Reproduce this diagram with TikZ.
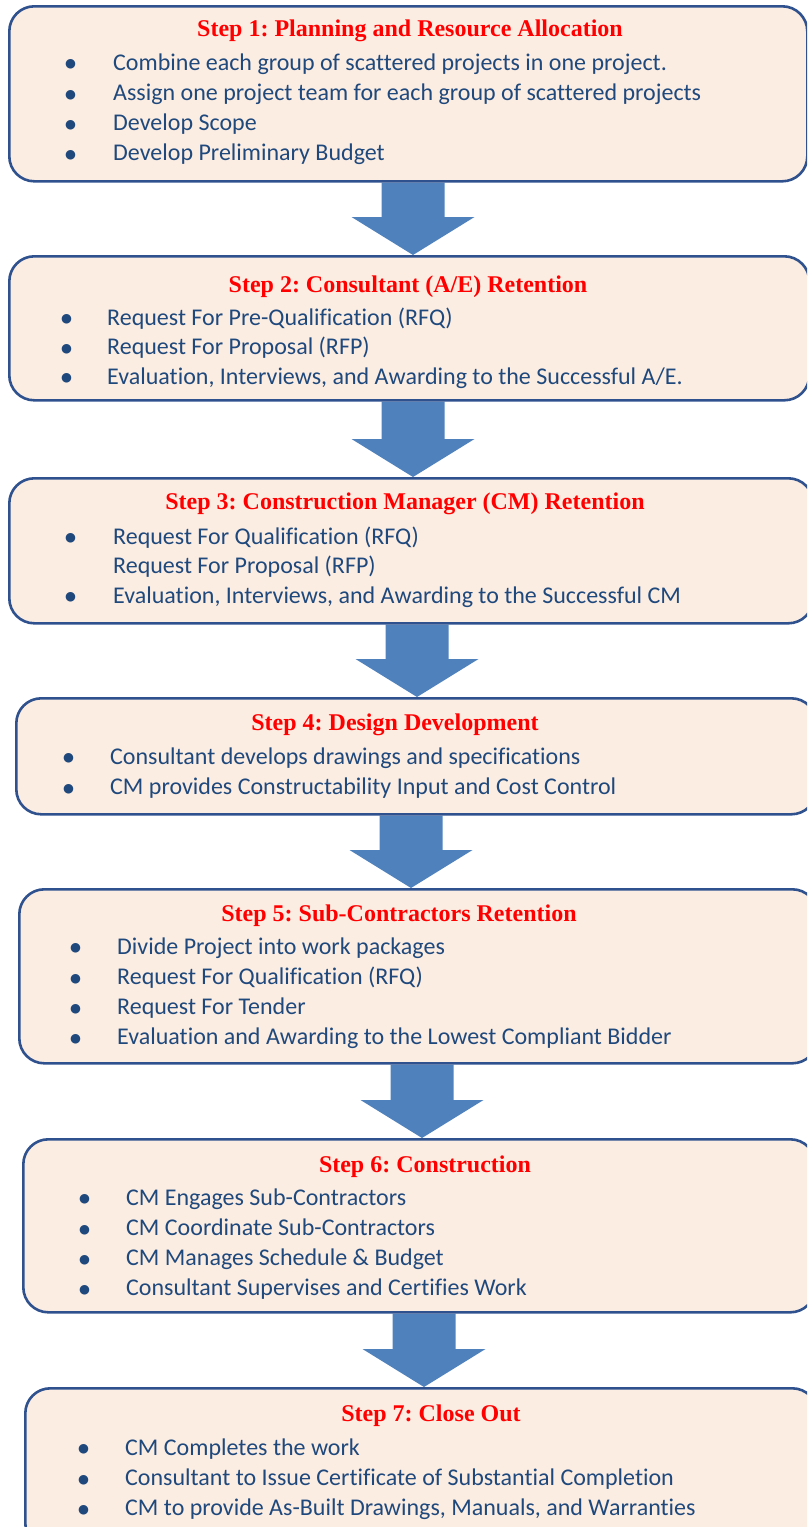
\documentclass[tikz,border=0pt]{standalone}
\usepackage{fontspec}
\setmainfont{Carlito}[Ligatures=NoCommon]
\newfontfamily\titlefont{Liberation Serif}
\newfontfamily\dotfont{DejaVu Sans}
\usepackage{tikz}
\usetikzlibrary{calc, backgrounds}
\frenchspacing
\definecolor{cBorder}{HTML}{2F528F}
\definecolor{cFill}{HTML}{FCEDE2}
\definecolor{cArrow}{HTML}{4F81BD}
\definecolor{cTitle}{HTML}{FF0000}
\definecolor{cText}{HTML}{1F497D}
\tikzset{
  stepbox/.style={
    rectangle, rounded corners=25pt, draw=cBorder, fill=cFill,
    line width=2.6pt, anchor=north west, inner sep=0pt
  },
  steptitle/.style={
    anchor=base, inner sep=0pt, text=cTitle,
    font=\titlefont\bfseries\fontsize{24}{28}\selectfont
  },
  stepitems/.style={
    anchor=base west, inner sep=0pt, text=cText,
    font=\fontsize{24}{30.3}\selectfont
  },
  blockarrow/.style={fill=cArrow},
}
\newcommand{\bul}{\raisebox{2.2pt}{\dotfont\fontsize{12.5}{12.5}\selectfont ●}}
% block arrow: centre x, upper box, lower box
\newcommand{\flowarrow}[3]{%
  \fill[blockarrow] let \p1=(#2.south), \p2=(#3.north) in
    (#1pt-31.5pt,\y1) -- (#1pt+31.5pt,\y1) -- (#1pt+31.5pt,\y2+38pt)
    -- (#1pt+61.5pt,\y2+38pt) -- (#1pt,\y2) -- (#1pt-61.5pt,\y2+38pt)
    -- (#1pt-31.5pt,\y2+38pt) -- cycle;}

\begin{document}
\begin{tikzpicture}[x=1pt, y=1pt]

  \useasboundingbox (0,0) rectangle (807,-1527);
  \clip (0,0) rectangle (807,-1527);

  % Step 1
  \node[stepbox, minimum width=798pt, minimum height=175pt] (plan) at (8,-5) {};
  \node[steptitle] (plan-t) at (410,-36) {Step 1: Planning and Resource Allocation};
  \node[stepitems] (plan-l) at (65,-70) {%
    \begin{tabular}[t]{@{}p{48pt}@{}l@{}}
      \bul & Combine each group of scattered projects in one project.\\
      \bul & Assign one project team for each group of scattered projects\\
      \bul & Develop Scope\\
      \bul & Develop Preliminary Budget
    \end{tabular}};

  % Step 2
  \node[stepbox, minimum width=800pt, minimum height=144pt] (consult) at (8,-255) {};
  \node[steptitle] (consult-t) at (408,-292) {Step 2: Consultant (A/E) Retention};
  \node[stepitems] (consult-l) at (61,-325) {%
    \fontsize{24}{29.5}\selectfont
    \begin{tabular}[t]{@{}p{46pt}@{}l@{}}
      \bul & Request For Pre-Qualification (RFQ)\\
      \bul & Request For Proposal (RFP)\\
      \bul & Evaluation, Interviews, and Awarding to the Successful A/E.
    \end{tabular}};

  % Step 3
  \node[stepbox, minimum width=804pt, minimum height=145pt] (cm) at (8,-477) {};
  \node[steptitle] (cm-t) at (405,-509) {Step 3: Construction Manager (CM) Retention};
  \node[stepitems] (cm-l) at (65,-544) {%
    \fontsize{24}{29.5}\selectfont
    \begin{tabular}[t]{@{}p{48pt}@{}l@{}}
      \bul & Request For Qualification (RFQ)\\
           & Request For Proposal (RFP)\\
      \bul & Evaluation, Interviews, and Awarding to the Successful CM
    \end{tabular}};

  % Step 4
  \node[stepbox, minimum width=800pt, minimum height=116pt] (design) at (15,-697) {};
  \node[steptitle] (design-t) at (395,-730) {Step 4: Design Development};
  \node[stepitems] (design-l) at (63,-764) {%
    \begin{tabular}[t]{@{}p{47pt}@{}l@{}}
      \bul & Consultant develops drawings and specifications\\
      \bul & CM provides Constructability Input and Cost Control
    \end{tabular}};

  % Step 5
  \node[stepbox, minimum width=798pt, minimum height=174pt] (subs) at (18,-888) {};
  \node[steptitle] (subs-t) at (399,-921) {Step 5: Sub-Contractors Retention};
  \node[stepitems] (subs-l) at (70,-954) {%
    \begin{tabular}[t]{@{}p{47pt}@{}l@{}}
      \bul & Divide Project into work packages\\
      \bul & Request For Qualification (RFQ)\\
      \bul & Request For Tender\\
      \bul & Evaluation and Awarding to the Lowest Compliant Bidder
    \end{tabular}};

  % Step 6
  \node[stepbox, minimum width=792pt, minimum height=173pt] (build) at (22,-1138) {};
  \node[steptitle] (build-t) at (425,-1172) {Step 6: Construction};
  \node[stepitems] (build-l) at (79,-1205) {%
    \begin{tabular}[t]{@{}p{47pt}@{}l@{}}
      \bul & CM Engages Sub-Contractors\\
      \bul & CM Coordinate Sub-Contractors\\
      \bul & CM Manages Schedule \& Budget\\
      \bul & Consultant Supervises and Certifies Work
    \end{tabular}};

  % Step 7
  \node[stepbox, minimum width=792pt, minimum height=160pt] (close) at (24,-1387) {};
  \node[steptitle] (close-t) at (431,-1421) {Step 7: Close Out};
  \node[stepitems] (close-l) at (78,-1455) {%
    \begin{tabular}[t]{@{}p{47pt}@{}l@{}}
      \bul & CM Completes the work\\
      \bul & Consultant to Issue Certificate of Substantial Completion\\
      \bul & CM to provide As-Built Drawings, Manuals, and Warranties
    \end{tabular}};

  % Arrows
  \begin{scope}[on background layer]
    \flowarrow{413}{plan}{consult}
    \flowarrow{413}{consult}{cm}
    \flowarrow{417}{cm}{design}
    \flowarrow{411}{design}{subs}
    \flowarrow{422}{subs}{build}
    \flowarrow{424}{build}{close}
  \end{scope}

\end{tikzpicture}
\end{document}
